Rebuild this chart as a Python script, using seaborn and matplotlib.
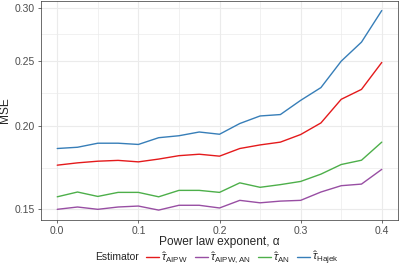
import numpy as np
import pandas as pd
import seaborn as sns
import matplotlib.pyplot as plt
from matplotlib.lines import Line2D

# values
alpha = [0.0, 0.025, 0.05, 0.075, 0.1, 0.125, 0.15, 0.175, 0.2,
         0.225, 0.25, 0.275, 0.3, 0.325, 0.35, 0.375, 0.4]
mse_aipw = [0.1746, 0.1760, 0.1770, 0.1775, 0.1766, 0.1783, 0.1804, 0.1813, 0.1801,
            0.1849, 0.1872, 0.1890, 0.1940, 0.2019, 0.2190, 0.2266, 0.2486]
mse_aipw_an = [0.1500, 0.1512, 0.1500, 0.1512, 0.1517, 0.1496, 0.1521, 0.1521, 0.1507,
               0.1547, 0.1534, 0.1543, 0.1547, 0.1592, 0.1627, 0.1636, 0.1721]
mse_an = [0.1566, 0.1592, 0.1568, 0.1590, 0.1590, 0.1566, 0.1601, 0.1601, 0.1590,
          0.1643, 0.1618, 0.1633, 0.1651, 0.1693, 0.1750, 0.1776, 0.1890]
mse_hajek = [0.1849, 0.1857, 0.1883, 0.1883, 0.1875, 0.1919, 0.1932, 0.1957, 0.1942,
             0.2015, 0.2068, 0.2078, 0.2182, 0.2280, 0.2497, 0.2666, 0.2972]

estimators = [r'$\hat{\tau}_{\mathrm{AIPW}}$', r'$\hat{\tau}_{\mathrm{AIPW,AN}}$',
              r'$\hat{\tau}_{\mathrm{AN}}$', r'$\hat{\tau}_{\mathrm{Hajek}}$']
colors = ['#E41A1C', '#984EA3', '#4DAF4A', '#377EB8']
y_ticks = [0.15, 0.20, 0.25, 0.30]

df = pd.DataFrame({
    'alpha': alpha * 4,
    'MSE': mse_aipw + mse_aipw_an + mse_an + mse_hajek,
    'Estimator': np.repeat(estimators, len(alpha)),
})

sns.set_theme(style="white")
plt.rcParams['font.family'] = ['Liberation Sans', 'DejaVu Sans']
plt.rcParams['mathtext.fontset'] = 'custom'
plt.rcParams['mathtext.rm'] = 'Liberation Sans'
plt.rcParams['mathtext.it'] = 'Liberation Sans:italic'

fig = plt.figure(figsize=(3.99, 2.66), dpi=100)
ax = fig.add_axes([0.1028, 0.173, 0.8947, 0.825])

palette = dict(zip(estimators, colors))
sns.lineplot(data=df, x='alpha', y='MSE', hue='Estimator', hue_order=estimators,
             palette=palette, linewidth=1.0, ax=ax, legend=False)

ax.set_yscale('log')
ax.set_ylim(0.1446, 0.3076)
ax.set_xlim(-0.02, 0.42)

ax.set_yticks(y_ticks)
ax.set_yticklabels(['%.2f' % v for v in y_ticks])
minor_y = [np.sqrt(a * b) for a, b in zip(y_ticks[:-1], y_ticks[1:])]
ax.set_yticks(minor_y, minor=True)
ax.set_xticks([0.0, 0.1, 0.2, 0.3, 0.4])
ax.set_xticklabels(['0.0', '0.1', '0.2', '0.3', '0.4'])
ax.set_xticks([0.05, 0.15, 0.25, 0.35], minor=True)

ax.grid(True, which='major', color='#EBEBEB', linewidth=0.8)
ax.grid(True, which='minor', color='#EBEBEB', linewidth=0.5)
ax.set_axisbelow(True)

ax.tick_params(which='major', length=2.5, width=0.5, color='#333333',
               labelsize=7.5, labelcolor='#4D4D4D', pad=2, left=True, bottom=True)
ax.tick_params(which='minor', length=0, labelleft=False, labelbottom=False)
for s in ax.spines.values():
    s.set_color('#333333')
    s.set_linewidth(0.5)

ax.set_xlabel('Power law exponent, α', fontsize=8.6, labelpad=0)
ax.set_ylabel('MSE', fontsize=8.6)
ax.yaxis.set_label_coords(-0.083, 0.5)

handles = [Line2D([], [], color=c, linewidth=1.0) for c in colors]
fig.text(0.238, 0.034, 'Estimator', fontsize=7.5, va='center', ha='left')
fig.legend(handles, estimators, loc='center left', bbox_to_anchor=(0.366, 0.029),
           ncol=4, frameon=False, fontsize=8.2, handlelength=1.15,
           handletextpad=0.2, columnspacing=0.6, borderpad=0, borderaxespad=0)

fig.savefig('out.png', dpi=100)
